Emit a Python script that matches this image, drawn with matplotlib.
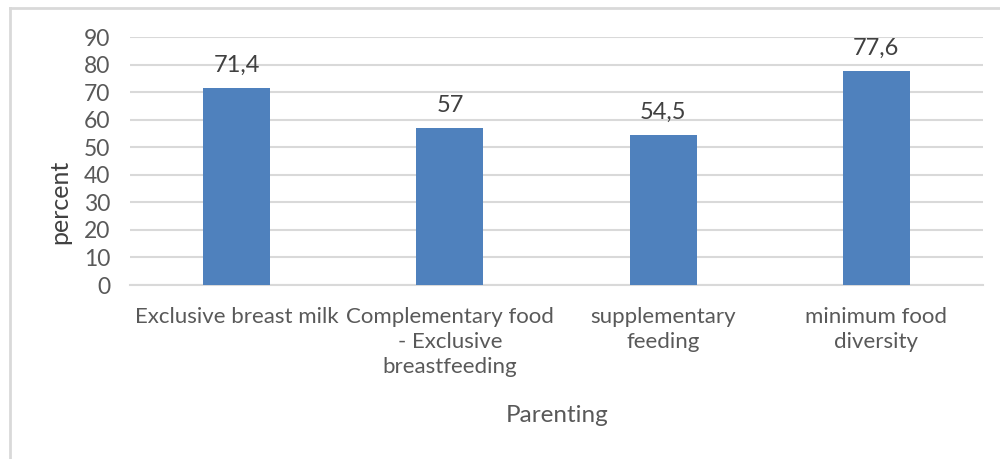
import matplotlib.pyplot as plt
from matplotlib.lines import Line2D

categories = ['Exclusive breast milk', 'Complementary food\n- Exclusive\nbreastfeeding',
              'supplementary\nfeeding', 'minimum food\ndiversity']
values = [71.4, 57, 54.5, 77.6]
value_labels = ['71,4', '57', '54,5', '77,6']
yticks = list(range(0, 100, 10))

plt.rcParams['font.family'] = ['Lato', 'DejaVu Sans']

fig = plt.figure(figsize=(10, 4.59), dpi=100)
ax = fig.add_axes([0.13, 0.379, 0.853, 0.54])

x = range(len(categories))
bars = ax.bar(x, values, width=0.315, color='#4f81bd', zorder=3)

for b, lab in zip(bars, value_labels):
    ax.text(b.get_x() + b.get_width() / 2, b.get_height() + 4.5, lab,
            ha='center', va='bottom', fontsize=17, color='#404040')

ax.set_xlim(-0.5, len(categories) - 0.5)
ax.set_ylim(0, 90)
ax.set_yticks(yticks)
ax.tick_params(axis='y', length=0, labelsize=16.5, labelcolor='#595959', pad=14)
ax.tick_params(axis='x', length=0, labelsize=16, labelcolor='#595959', pad=16)
ax.set_xticks(list(x))
ax.set_xticklabels(categories, linespacing=1.3)
ax.grid(axis='y', color='#d9d9d9', linewidth=1.5, zorder=0)
for s in ['top', 'right', 'left']:
    ax.spines[s].set_visible(False)
ax.spines['bottom'].set_color('#d9d9d9')
ax.spines['bottom'].set_linewidth(1.5)

fig.text(0.06, 1 - 202 / 459, 'percent', rotation=90, ha='center', va='center',
         fontsize=18, color='#404040')
fig.text(0.557, 1 - 415 / 459, 'Parenting', ha='center', va='center',
         fontsize=17.5, color='#595959')

# chart frame (top and left edges visible)
fig.add_artist(Line2D([0.01, 1.0], [1 - 8 / 459, 1 - 8 / 459], transform=fig.transFigure,
                      color='#d9d9d9', linewidth=2))
fig.add_artist(Line2D([0.01, 0.01], [0, 1 - 8 / 459], transform=fig.transFigure,
                      color='#d9d9d9', linewidth=2))

fig.savefig('out.png', dpi=100)
